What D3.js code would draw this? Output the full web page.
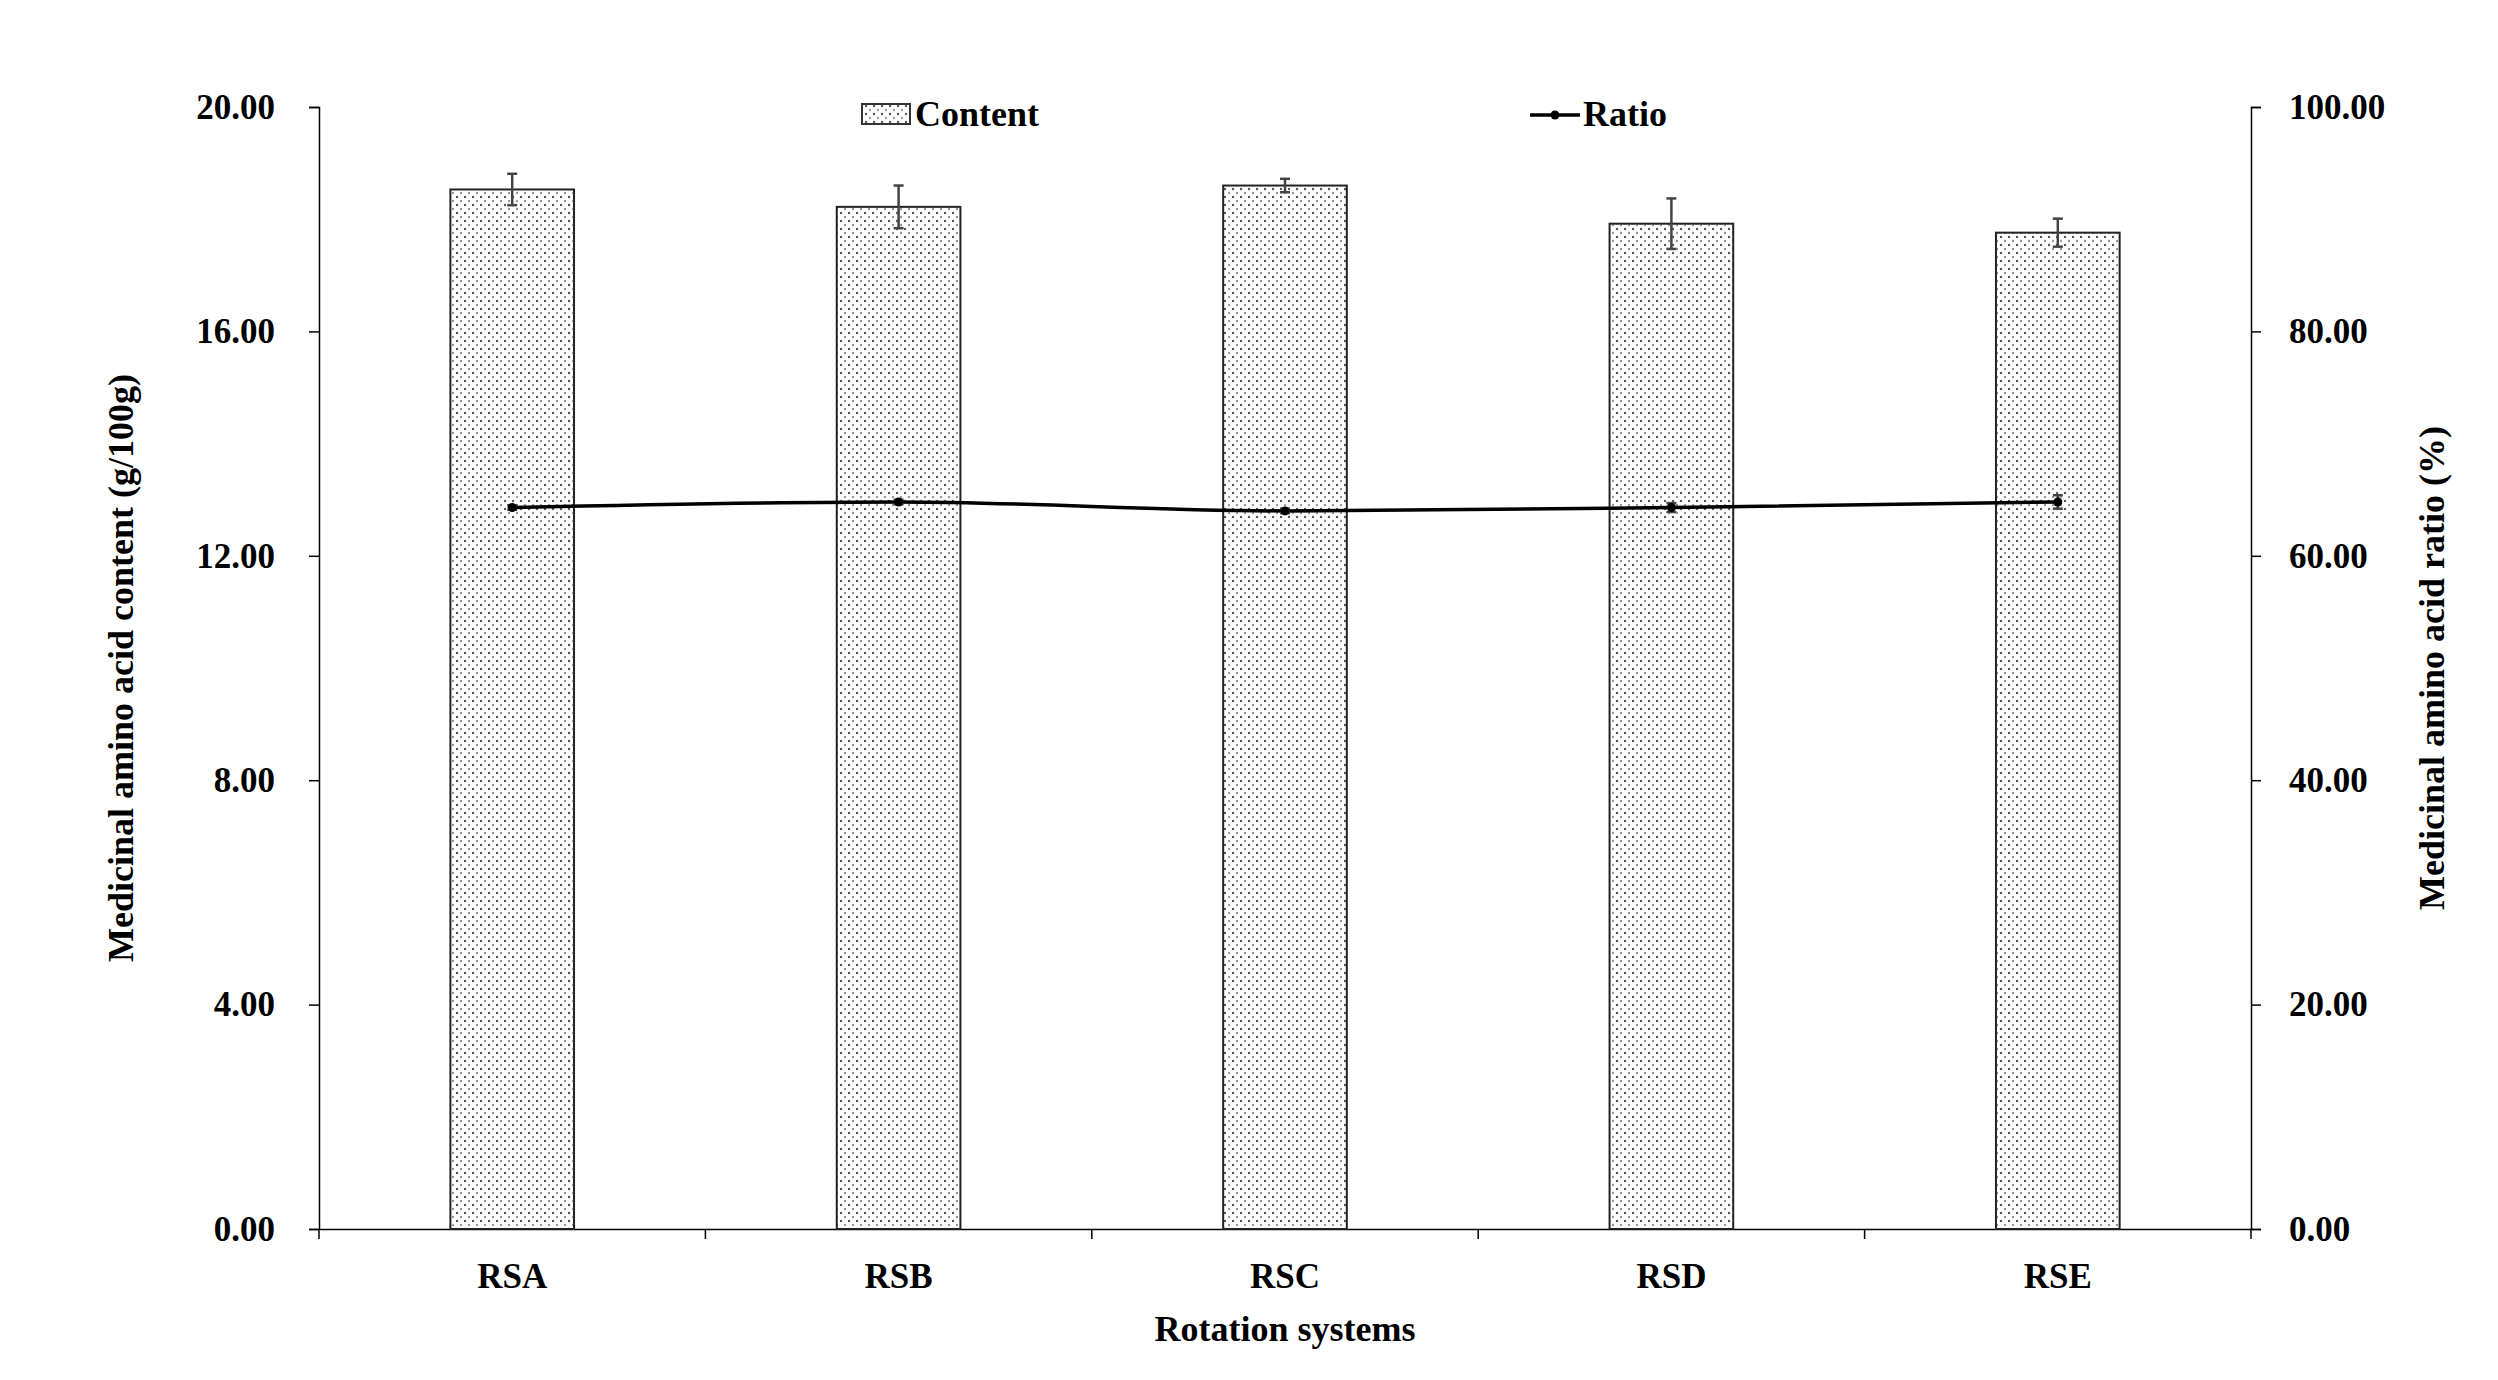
<!DOCTYPE html>
<html>
<head>
<meta charset="utf-8">
<script src="https://cdn.jsdelivr.net/npm/d3@7"></script>
<style>
body { margin: 0; background: #fff; }
text { font-family: "Liberation Serif", "Times New Roman", serif; font-weight: bold; fill: #000; }
</style>
</head>
<body>
<svg id="chart" width="2498" height="1380"></svg>
<script>
// data
const categories = ["RSA", "RSB", "RSC", "RSD", "RSE"];
const content = [18.53, 18.22, 18.60, 17.92, 17.76];
const contentErr = [0.28, 0.38, 0.12, 0.45, 0.25];
const ratio = [64.3, 64.8, 64.0, 64.3, 64.8];
const ratioErr = [0.2, 0.2, 0.2, 0.4, 0.6];
const leftTicks = [0, 4, 8, 12, 16, 20];
const rightTicks = [0, 20, 40, 60, 80, 100];

const margin = {top: 107, right: 247, bottom: 151, left: 319};
const W = 2498, H = 1380;
const w = W - margin.left - margin.right, h = H - margin.top - margin.bottom;

const svg = d3.select("#chart");
const defs = svg.append("defs");
const pat = defs.append("pattern").attr("id", "dots")
  .attr("width", 8).attr("height", 8).attr("patternUnits", "userSpaceOnUse");
pat.append("rect").attr("width", 8).attr("height", 8).attr("fill", "#fff");
pat.append("circle").attr("cx", 2).attr("cy", 2).attr("r", 1.2).attr("fill", "#555");
pat.append("circle").attr("cx", 6).attr("cy", 6).attr("r", 1.2).attr("fill", "#999");

const g = svg.append("g").attr("transform", `translate(${margin.left},${margin.top})`);

const x = d3.scaleBand().domain(categories).range([0, w]);
const yL = d3.scaleLinear().domain([0, 20]).range([h, 0]);
const yR = d3.scaleLinear().domain([0, 100]).range([h, 0]);
const bw = x.bandwidth() * 0.32;

// axes
const axL = g.append("g").call(d3.axisLeft(yL).tickValues(leftTicks).tickFormat(d3.format(".2f")).tickSize(10).tickPadding(34));
const axR = g.append("g").attr("transform", `translate(${w},0)`)
  .call(d3.axisRight(yR).tickValues(rightTicks).tickFormat(d3.format(".2f")).tickSize(10).tickPadding(28));
const axX = g.append("g").attr("transform", `translate(0,${h})`)
  .call(d3.axisBottom(x).tickSize(0).tickPadding(34));
// category boundary ticks
g.selectAll(".bt").data(d3.range(categories.length + 1)).join("line")
  .attr("x1", i => i * x.step()).attr("x2", i => i * x.step())
  .attr("y1", h).attr("y2", h + 10).attr("stroke", "#000").attr("stroke-width", 1.5);
[axL, axR, axX].forEach(a => {
  a.selectAll("text").style("font-size", "35px").style("font-family", "Liberation Serif").style("font-weight", "bold");
  a.selectAll("path,line").attr("stroke", "#000").attr("stroke-width", 1.5);
});

// bars
g.selectAll(".bar").data(categories).join("rect")
  .attr("x", d => x(d) + x.bandwidth() / 2 - bw / 2)
  .attr("y", (d, i) => yL(content[i]))
  .attr("width", bw).attr("height", (d, i) => h - yL(content[i]))
  .attr("fill", "url(#dots)").attr("stroke", "#222").attr("stroke-width", 2);

function errBars(vals, errs, y, cls) {
  const eg = g.selectAll("." + cls).data(categories).join("g").attr("class", cls);
  eg.append("line")
    .attr("x1", d => x(d) + x.bandwidth() / 2).attr("x2", d => x(d) + x.bandwidth() / 2)
    .attr("y1", (d, i) => y(vals[i] - errs[i])).attr("y2", (d, i) => y(vals[i] + errs[i]));
  [-1, 1].forEach(s => eg.append("line")
    .attr("x1", d => x(d) + x.bandwidth() / 2 - 5).attr("x2", d => x(d) + x.bandwidth() / 2 + 5)
    .attr("y1", (d, i) => y(vals[i] + s * errs[i])).attr("y2", (d, i) => y(vals[i] + s * errs[i])));
  eg.selectAll("line").attr("stroke", "#444").attr("stroke-width", 2.5);
}
errBars(content, contentErr, yL, "ebc");

// ratio line
const line = d3.line().x(d => x(d) + x.bandwidth() / 2).y((d, i) => yR(ratio[i])).curve(d3.curveMonotoneX);
g.append("path").datum(categories).attr("d", line).attr("fill", "none").attr("stroke", "#000").attr("stroke-width", 3.5);
errBars(ratio, ratioErr, yR, "ebr");
g.selectAll(".pt").data(categories).join("circle")
  .attr("cx", d => x(d) + x.bandwidth() / 2).attr("cy", (d, i) => yR(ratio[i])).attr("r", 4.5).attr("fill", "#000");

// axis titles
g.append("text").attr("x", w / 2).attr("y", h + 112).attr("text-anchor", "middle").style("font-size", "36px").text("Rotation systems");
g.append("text").attr("transform", `translate(-186,${h / 2}) rotate(-90)`).attr("text-anchor", "middle").style("font-size", "36px")
  .text("Medicinal amino acid content (g/100g)");
g.append("text").attr("transform", `translate(${w + 193},${h / 2}) rotate(-90)`).attr("text-anchor", "middle").style("font-size", "36px")
  .text("Medicinal amino acid ratio (%)");

// legend
const lg = svg.append("g");
lg.append("rect").attr("x", 862).attr("y", 104).attr("width", 48).attr("height", 20)
  .attr("fill", "url(#dots)").attr("stroke", "#333").attr("stroke-width", 2);
lg.append("text").attr("x", 915).attr("y", 126).style("font-size", "36px").text("Content");
lg.append("line").attr("x1", 1530).attr("x2", 1580).attr("y1", 115).attr("y2", 115).attr("stroke", "#000").attr("stroke-width", 3.5);
lg.append("circle").attr("cx", 1555).attr("cy", 115).attr("r", 4.5).attr("fill", "#000");
lg.append("text").attr("x", 1583).attr("y", 126).style("font-size", "36px").text("Ratio");
</script>
</body>
</html>
